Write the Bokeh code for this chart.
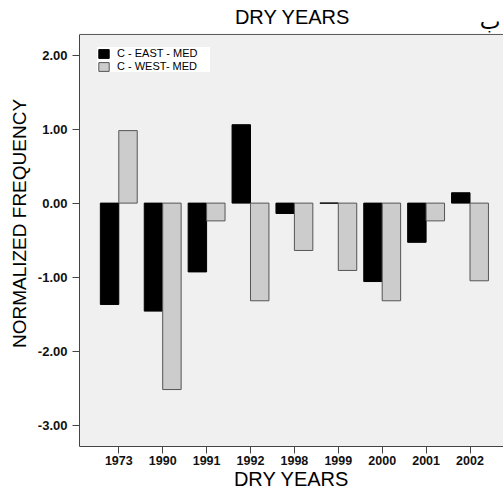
from bokeh.plotting import figure
from bokeh.models import (ColumnDataSource, Range1d, FixedTicker, NumeralTickFormatter,
                          Label, Span, BoxAnnotation)
from bokeh.transform import dodge
from bokeh.embed import file_html
from bokeh.resources import INLINE

years = ["1973", "1990", "1991", "1992", "1998", "1999", "2000", "2001", "2002"]
east_med = [-1.37, -1.46, -0.93, 1.06, -0.14, 0.00, -1.06, -0.53, 0.14]
west_med = [0.98, -2.52, -0.24, -1.32, -0.64, -0.91, -1.32, -0.24, -1.05]
y_ticks = [-3, -2, -1, 0, 1, 2]

idx = list(range(len(years)))
src = ColumnDataSource(dict(idx=idx, year=years, east=east_med, west=west_med))

# axis extent of the chart area; the frame itself reaches to the top of the canvas
y_start, y_end = -3.29, 2.28
y_frame_top = 2.739

p = figure(width=503, height=492, output_backend="svg", toolbar_location=None,
           x_range=Range1d(-0.895, 8.763), y_range=Range1d(y_start, y_frame_top),
           min_border_left=79, min_border_right=0, min_border_top=0, min_border_bottom=45)

p.background_fill_color = "white"
p.border_fill_color = "white"
p.outline_line_color = None
p.xgrid.visible = False
p.ygrid.visible = False

# grey chart area and its top border
p.add_layout(BoxAnnotation(bottom=y_start, top=y_end, fill_color="#f0f0f0", fill_alpha=1,
                           line_color=None, level="underlay"))
p.add_layout(Span(location=y_end, dimension="width", line_color="#555555", line_width=1))

p.vbar(x=dodge("idx", -0.21, range=p.x_range), top="east", bottom=0, width=0.42,
       source=src, fill_color="black", line_color="black", line_width=1,
       legend_label="C - EAST - MED")
p.vbar(x=dodge("idx", 0.21, range=p.x_range), top="west", bottom=0, width=0.42,
       source=src, fill_color="#cccccc", line_color="#555555", line_width=1,
       legend_label="C - WEST- MED")

# axes
p.xaxis.ticker = FixedTicker(ticks=idx)
p.xaxis.major_label_overrides = {i: y for i, y in zip(idx, years)}
p.xaxis.axis_label = "DRY YEARS"
p.yaxis.ticker = FixedTicker(ticks=y_ticks)
p.yaxis.formatter = NumeralTickFormatter(format="0.00")
p.yaxis.axis_label = "NORMALIZED FREQUENCY"
p.yaxis.bounds = (y_start, y_end)

for ax in (p.xaxis, p.yaxis):
    ax.axis_line_color = "#444444"
    ax.major_tick_line_color = "#444444"
    ax.major_tick_out = 7
    ax.major_tick_in = 0
    ax.minor_tick_line_color = None
    ax.major_label_text_font = "Liberation Sans"
    ax.major_label_text_font_style = "bold"
    ax.major_label_text_color = "#111111"
    ax.axis_label_text_font = "Liberation Sans"
    ax.axis_label_text_font_style = "normal"
    ax.axis_label_text_color = "black"

p.xaxis.major_label_text_font_size = "12.5px"
p.xaxis.major_label_standoff = 2
p.xaxis.axis_label_text_font_size = "20px"
p.xaxis.axis_label_standoff = 0
p.yaxis.major_label_text_font_size = "13px"
p.yaxis.major_label_standoff = 5
p.yaxis.axis_label_text_font_size = "19px"
p.yaxis.axis_label_standoff = 5

# legend
lg = p.legend[0]
lg.location = (18, 374)
lg.background_fill_color = "white"
lg.background_fill_alpha = 1
lg.border_line_color = None
lg.padding = 4
lg.spacing = 1
lg.margin = 0
lg.glyph_width = 13
lg.glyph_height = 11
lg.label_height = 12
lg.label_standoff = 7
lg.label_width = 93
lg.label_text_font = "Liberation Sans"
lg.label_text_font_size = "11px"
lg.label_text_color = "black"

# heading texts (screen offsets from the frame's bottom-left corner)
p.add_layout(Label(x=213, y=430, x_units="screen", y_units="screen", text="DRY YEARS",
                   text_align="center", text_baseline="alphabetic",
                   text_font="Liberation Sans", text_font_size="20px", text_color="black"))
p.add_layout(Label(x=421, y=425, x_units="screen", y_units="screen", text="ب",
                   text_align="right", text_baseline="alphabetic",
                   text_font="DejaVu Sans", text_font_size="22px", text_color="black"))

open("out.html", "w").write(file_html(p, INLINE))
